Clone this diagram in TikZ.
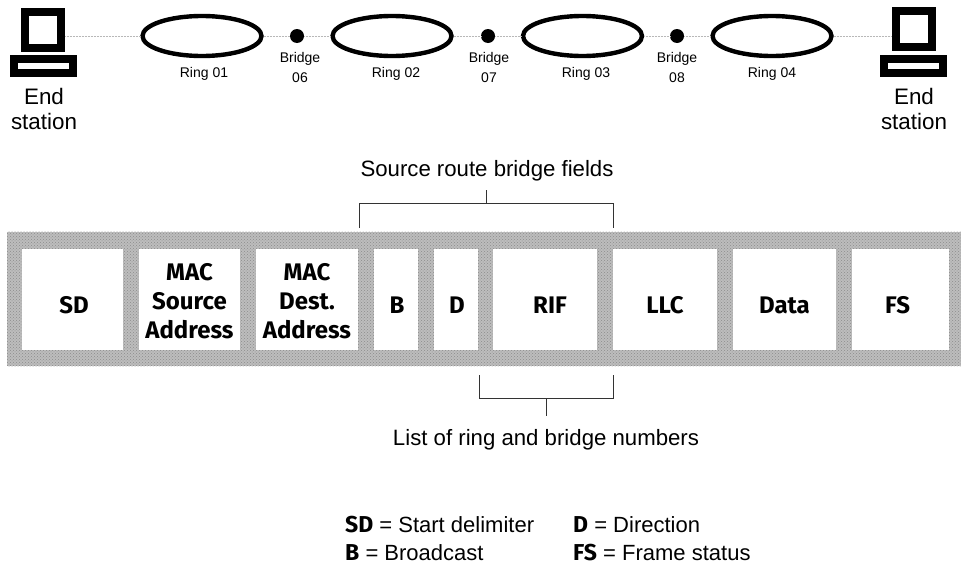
\documentclass[tikz,border=0pt]{standalone}
\usepackage{fontspec}
\usetikzlibrary{shapes.geometric,patterns}
\setmainfont{Liberation Sans}
\newfontfamily\fieldfont{Fira Sans}[UprightFont=* Bold,BoldFont=* Bold]
\definecolor{bandgray}{gray}{0.74}
\definecolor{bandink}{gray}{0.55}
\definecolor{wireink}{gray}{0.72}
\tikzset{
  x=1pt,y=-1pt,
  bandbox/.style={draw=none,fill=bandgray,minimum width=954pt,minimum height=134pt,inner sep=0pt},
  fieldbox/.style={fill=white,draw=none,minimum height=101pt,inner sep=0pt,align=center,
    font=\fieldfont\fontsize{24}{29}\selectfont},
  ringnode/.style={ellipse,draw=black,line width=4.4pt,minimum width=119pt,minimum height=40pt,inner sep=0pt},
  bridgenode/.style={circle,fill=black,minimum size=14pt,inner sep=0pt},
  wire/.style={draw=wireink,line width=0.5pt,densely dotted},
  screennode/.style={draw=black,fill=white,line width=8pt,minimum width=36pt,minimum height=36pt,inner sep=0pt},
  basenode/.style={draw=black,fill=white,line width=8pt,minimum width=59pt,minimum height=14pt,inner sep=0pt},
  smalltext/.style={font=\fontsize{14}{19.5}\selectfont,align=center,inner sep=0pt},
  bigtext/.style={font=\fontsize{22.4}{24.5}\selectfont,align=center,inner sep=0pt},
  capt/.style={font=\fontsize{22.2}{24}\selectfont,inner sep=0pt},
  legendtext/.style={font=\fontsize{22}{24}\selectfont,inner sep=0pt,anchor=base west},
  bracket/.style={draw=black!80,line width=0.7pt}
}
\newcommand{\lgd}[1]{{\fieldfont\fontsize{23}{24}\selectfont #1}}
\newcommand{\oneline}[2]{\kern#1pt\raisebox{-13.5pt}[0pt][0pt]{#2}}
\newcommand{\threelines}[3]{\raisebox{-10pt}[0pt][0pt]{\begin{tabular}{@{}c@{}}#1\\#2\\#3\end{tabular}}}
\begin{document}
\begin{tikzpicture}
\useasboundingbox (0,0) rectangle (961,565);
% end stations
\node[screennode] (s1) at (43,29.5) {};
\node[basenode] (b1) at (43.5,66) {};
\node[screennode] (s2) at (914,29) {};
\node[basenode] (b2) at (913.5,66) {};
\node[bigtext] (e1) at (44,109) {End\\station};
\node[bigtext] (e2) at (914,109) {End\\station};
% rings and bridges
\node[ringnode] (r1) at (202,36) {};
\node[ringnode] (r2) at (392,36) {};
\node[ringnode] (r3) at (582.5,36) {};
\node[ringnode] (r4) at (772,36) {};
\node[bridgenode] (g1) at (297,36) {};
\node[bridgenode] (g2) at (488,36) {};
\node[bridgenode] (g3) at (677,36) {};
\draw[wire] (s1.east |- r1.west) -- (r1.west);
\draw[wire] (r1.east) -- (g1);
\draw[wire] (g1) -- (r2.west);
\draw[wire] (r2.east) -- (g2);
\draw[wire] (g2) -- (r3.west);
\draw[wire] (r3.east) -- (g3);
\draw[wire] (g3) -- (r4.west);
\draw[wire] (r4.east) -- (s2.west |- r4.east);
\node[smalltext] (t1) at (204,74) {Ring 01};
\node[smalltext] (t2) at (396,74) {Ring 02};
\node[smalltext] (t3) at (586,74) {Ring 03};
\node[smalltext] (t4) at (772,74) {Ring 04};
\node[smalltext] (l1) at (300,67.5) {Bridge\\06};
\node[smalltext] (l2) at (489,67.5) {Bridge\\07};
\node[smalltext] (l3) at (677,67.5) {Bridge\\08};
% frame band
\node[bandbox] (frame) at (484,299) {};
\fill[pattern=crosshatch dots,pattern color=bandink] (frame.north west) rectangle (frame.south east);
\node[fieldbox,minimum width=101pt] (sd) at (72.5,299.5) {\oneline{3}{SD}};
\node[fieldbox,minimum width=101pt] (src) at (189.5,299.5) {\threelines{MAC}{Source}{Address}};
\node[fieldbox,minimum width=102pt] (dst) at (307,299.5) {\threelines{MAC}{Dest.}{Address}};
\node[fieldbox,minimum width=44pt] (bb) at (396,299.5) {\oneline{2}{B}};
\node[fieldbox,minimum width=44pt] (dd) at (456,299.5) {\oneline{2}{D}};
\node[fieldbox,minimum width=104pt] (rif) at (545,299.5) {\oneline{10}{RIF}};
\node[fieldbox,minimum width=104pt] (llc) at (665,299.5) {\oneline{0}{LLC}};
\node[fieldbox,minimum width=103pt] (data) at (784.5,299.5) {\oneline{0}{Data}};
\node[fieldbox,minimum width=97pt] (fs) at (900.5,299.5) {\oneline{-6}{FS}};
% brackets
\node[capt] (top) at (487,170.5) {Source route bridge fields};
\coordinate (ta) at (359,228);
\coordinate (tb) at (613,228);
\coordinate (tc) at (359,203.5);
\coordinate (td) at (613,203.5);
\coordinate (te) at (486,203.5);
\coordinate (tf) at (486,190);
\draw[bracket] (ta) -- (tc) -- (td) -- (tb);
\draw[bracket] (tf) -- (te);
\node[capt] (bot) at (546,439.5) {List of ring and bridge numbers};
\coordinate (ba) at (479,375);
\coordinate (bb2) at (613,375);
\coordinate (bc) at (479,398);
\coordinate (bd) at (613,398);
\coordinate (be) at (546,398);
\coordinate (bf) at (546,416);
\draw[bracket] (ba) -- (bc) -- (bd) -- (bb2);
\draw[bracket] (be) -- (bf);
% legend
\node[legendtext] (k1) at (345,532) {\lgd{SD} = Start delimiter};
\node[legendtext] (k2) at (345,560) {\lgd{B} = Broadcast};
\node[legendtext] (k3) at (573,532) {\lgd{D} = Direction};
\node[legendtext] (k4) at (573,560) {\lgd{FS} = Frame status};
\end{tikzpicture}
\end{document}
